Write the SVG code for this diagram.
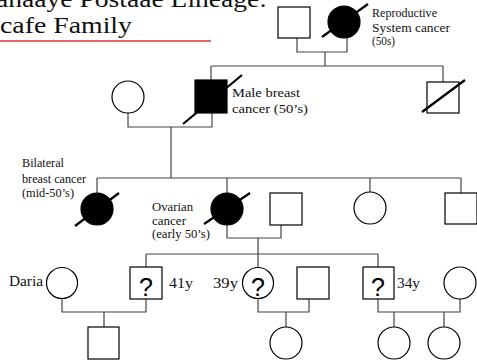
<svg xmlns="http://www.w3.org/2000/svg" width="477" height="360" viewBox="0 0 477 360">
<style>
.ln{stroke:#444;stroke-width:1.2;fill:none}
.m{stroke:#000;stroke-width:1.2;fill:#fff}
.a{stroke:#000;stroke-width:1.2;fill:#000}
.d{stroke:#000;stroke-width:2.2}
.t{font-family:"Liberation Serif","Times New Roman",serif;font-size:12px;fill:#111}
.g{font-family:"Liberation Serif","Times New Roman",serif;font-size:14px;fill:#111}
.q{font-family:"Liberation Sans",Arial,sans-serif;font-size:25px;fill:#000;text-anchor:middle}
.ti{font-family:"Liberation Serif","Times New Roman",serif;font-size:23px;fill:#111}
</style>
<rect width="477" height="360" fill="#fff"/>
<g id="title">
<text class="ti" x="-4" y="7" textLength="271" lengthAdjust="spacingAndGlyphs">anaaye Postaae Lineage:</text>
<text class="ti" x="0" y="33" textLength="132" lengthAdjust="spacingAndGlyphs">cafe Family</text>
<line x1="0" y1="41" x2="211" y2="41" stroke="#d33" stroke-width="1.6"/>
</g>
<g id="connectors">
<path class="ln" d="M297 37V52H347V38M325 52V66M211 66H443M211 66V80M443 66V82"/>
<path class="ln" d="M128 113V127H212V113M171 127V178M97 178H461M97 178V193M227 178V193M370 178V192M461 178V193"/>
<path class="ln" d="M227 225V238H281V225M258 238V254M146 254H378M146 254V267M258 254V267M378 254V267"/>
<path class="ln" d="M62 298V312H146V299M104 312V327"/>
<path class="ln" d="M258 299V312H309V299M286 312V327"/>
<path class="ln" d="M378 299V312H460V299M394 312V327M444 312V327"/>
</g>
<g id="gp-father"><rect class="m" x="278" y="7" width="32" height="31"/></g>
<g id="gp-mother"><circle class="a" cx="344" cy="22" r="16"/><line class="d" x1="322" y1="37" x2="368" y2="4"/>
<text class="t" x="372" y="17" textLength="65" lengthAdjust="spacingAndGlyphs">Reproductive</text>
<text class="t" x="372" y="32" textLength="78" lengthAdjust="spacingAndGlyphs">System cancer</text>
<text class="t" x="372" y="45" textLength="23" lengthAdjust="spacingAndGlyphs">(50s)</text></g>
<g id="uncle"><rect class="m" x="427" y="82" width="32" height="31"/><line class="d" x1="422" y1="112" x2="465" y2="80"/></g>
<g id="grandmother"><circle class="m" cx="128" cy="97" r="16"/></g>
<g id="grandfather"><rect class="a" x="195" y="80" width="32" height="33"/><line class="d" x1="183" y1="124" x2="242" y2="75"/>
<text class="t" x="232" y="97" textLength="68" lengthAdjust="spacingAndGlyphs">Male breast</text>
<text class="t" x="232" y="113" textLength="76" lengthAdjust="spacingAndGlyphs">cancer (50’s)</text></g>
<g id="aunt1"><circle class="a" cx="97" cy="209" r="16"/><line class="d" x1="75" y1="226" x2="119" y2="193"/>
<text class="t" x="22" y="167" textLength="42" lengthAdjust="spacingAndGlyphs">Bilateral</text>
<text class="t" x="22" y="183" textLength="64" lengthAdjust="spacingAndGlyphs">breast cancer</text>
<text class="t" x="22" y="197" textLength="52" lengthAdjust="spacingAndGlyphs">(mid-50’s)</text></g>
<g id="mother"><circle class="a" cx="227" cy="209" r="16"/><line class="d" x1="204" y1="224" x2="250" y2="193"/>
<text class="t" x="152" y="211" textLength="41" lengthAdjust="spacingAndGlyphs">Ovarian</text>
<text class="t" x="152" y="225" textLength="34" lengthAdjust="spacingAndGlyphs">cancer</text>
<text class="t" x="152" y="238" textLength="58" lengthAdjust="spacingAndGlyphs">(early 50’s)</text></g>
<g id="father"><rect class="m" x="270" y="193" width="32" height="32"/></g>
<g id="aunt2"><circle class="m" cx="370" cy="208" r="16"/></g>
<g id="uncle2"><rect class="m" x="445" y="193" width="32" height="31"/></g>
<g id="daria"><circle class="m" cx="62" cy="283" r="15.5"/>
<text class="g" x="9" y="286" textLength="34" lengthAdjust="spacingAndGlyphs">Daria</text></g>
<g id="son41"><rect class="m" x="130" y="267" width="32" height="32"/><text class="q" x="146" y="296">?</text>
<text class="g" x="169" y="288" textLength="24" lengthAdjust="spacingAndGlyphs">41y</text></g>
<g id="grandson"><rect class="m" x="88" y="327" width="31" height="32"/></g>
<g id="dau39"><circle class="m" cx="258" cy="283" r="15.5"/><text class="q" x="258" y="296">?</text>
<text class="g" x="213" y="288" textLength="25" lengthAdjust="spacingAndGlyphs">39y</text></g>
<g id="son-in-law"><rect class="m" x="297" y="267" width="32" height="32"/></g>
<g id="granddau1"><circle class="m" cx="286" cy="343" r="16"/></g>
<g id="son34"><rect class="m" x="363" y="267" width="31" height="32"/><text class="q" x="378" y="296">?</text>
<text class="g" x="397" y="288" textLength="23" lengthAdjust="spacingAndGlyphs">34y</text></g>
<g id="dau-in-law"><circle class="m" cx="460" cy="283" r="16"/></g>
<g id="granddau2"><circle class="m" cx="394" cy="343" r="16"/></g>
<g id="granddau3"><circle class="m" cx="444" cy="343" r="16"/></g>
</svg>
